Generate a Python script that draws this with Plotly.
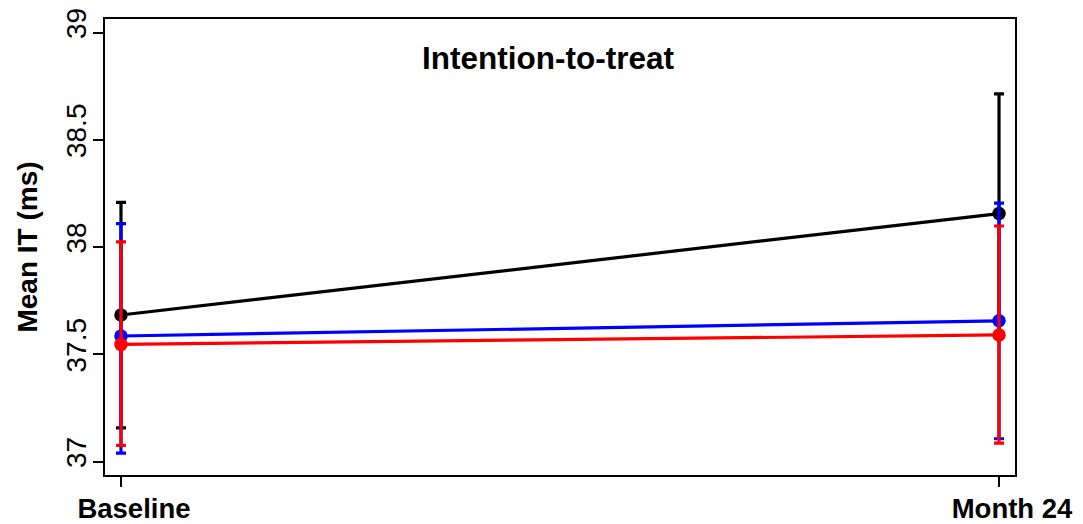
import plotly.graph_objects as go

timepoints = ["Baseline", "Month 24"]
x_pos = [0, 1]

black_mean = [37.684, 38.157]
black_up = [0.525, 0.558]
black_down = [0.526, 0.558]

blue_mean = [37.586, 37.657]
blue_up = [0.524, 0.549]
blue_down = [0.546, 0.550]

red_mean = [37.547, 37.591]
red_up = [0.478, 0.508]
red_down = [0.471, 0.504]

y_ticks = [37, 37.5, 38, 38.5, 39]
y_tick_text = ["37", "37.5", "38", "38.5", "39"]

FONT = "Liberation Sans, Arial, sans-serif"

fig = go.Figure()
for mean, up, down, col in [
    (black_mean, black_up, black_down, "#000000"),
    (blue_mean, blue_up, blue_down, "#0000FF"),
    (red_mean, red_up, red_down, "#FF0000"),
]:
    fig.add_trace(go.Scatter(
        x=x_pos, y=mean, mode="lines+markers",
        line=dict(color=col, width=3.2),
        marker=dict(color=col, size=13.5, symbol="circle"),
        error_y=dict(type="data", symmetric=False, array=up, arrayminus=down,
                     color=col, thickness=3.2, width=5),
        showlegend=False,
    ))

fig.add_annotation(text="<b>Intention-to-treat</b>", xref="paper", yref="paper",
                   x=0.487, y=0.915, xanchor="center", yanchor="middle",
                   showarrow=False, font=dict(family=FONT, size=31.5, color="black"))

fig.update_layout(
    width=1075, height=516,
    margin=dict(l=97, r=68, t=11, b=49, autoexpand=False),
    paper_bgcolor="white", plot_bgcolor="white",
    font=dict(family=FONT, color="black"),
    xaxis=dict(
        range=[-0.0182, 1.0182], tickmode="array", tickvals=x_pos,
        ticktext=["<b>%s</b>" % t for t in timepoints],
        tickfont=dict(family=FONT, size=27.5, color="black"),
        ticks="outside", ticklen=10, tickwidth=2, tickcolor="black",
        showgrid=False, zeroline=False, automargin=False,
        showline=True, linecolor="black", linewidth=2, mirror=True,
        ticklabelshift=13, ticklabelstandoff=-2,
    ),
    yaxis=dict(
        range=[36.938, 39.064], tickmode="array", tickvals=y_ticks,
        ticktext=y_tick_text, tickangle=-90,
        tickfont=dict(family=FONT, size=28, color="black"),
        ticks="outside", ticklen=10, tickwidth=2, tickcolor="black",
        showgrid=False, zeroline=False, automargin=False,
        showline=True, linecolor="black", linewidth=2, mirror=True,
        ticklabelshift=-5, ticklabelstandoff=-4, ticklabeloverflow="allow",
        title=dict(text="<b>Mean IT (ms)</b>", font=dict(family=FONT, size=28, color="black"),
                   standoff=15),
    ),
)

fig.write_html("out.html")
